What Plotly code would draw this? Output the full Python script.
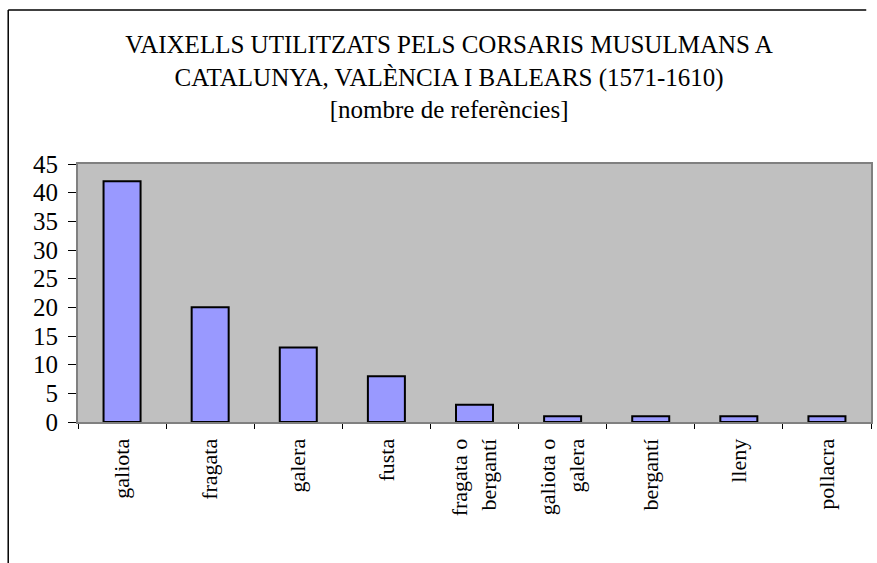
import plotly.graph_objects as go

# data
vaixells = ["galiota", "fragata", "galera", "fusta", "fragata o<br>bergantí",
            "galiota o<br>galera", "bergantí", "lleny", "pollacra"]
referencies = [42, 20, 13, 8, 3, 1, 1, 1, 1]
yticks = [0, 5, 10, 15, 20, 25, 30, 35, 40, 45]

titol = ("VAIXELLS UTILITZATS PELS CORSARIS MUSULMANS A<br>"
         "CATALUNYA, VALÈNCIA I BALEARS (1571-1610)<br>"
         "[nombre de referències]")

FONT = "Liberation Serif, Times New Roman, serif"

fig = go.Figure(go.Bar(
    x=vaixells, y=referencies,
    marker=dict(color="#9999FF", line=dict(color="black", width=2)),
))

fig.update_layout(
    width=877, height=563,
    margin=dict(l=78, r=4, t=164, b=141),
    paper_bgcolor="white", plot_bgcolor="#C0C0C0",
    bargap=0.58,
    showlegend=False,
    font=dict(family=FONT, color="black"),
    title=dict(text=titol, x=0.468, xref="paper", xanchor="center",
               y=0.905, yanchor="top",
               font=dict(family=FONT, size=25, color="black")),
)

fig.update_yaxes(
    range=[0, 45], tickvals=yticks, showgrid=False, zeroline=False,
    ticks="outside", ticklen=8, tickcolor="black",
    ticklabelstandoff=5,
    showline=True, linecolor="#808080", linewidth=2, mirror=True,
    tickfont=dict(size=25),
)
fig.update_xaxes(
    tickangle=-90, ticks="outside", ticklen=5, tickcolor="black",
    tickson="boundaries", ticklabelstandoff=6,
    showline=True, linecolor="#808080", linewidth=2, mirror=True,
    tickfont=dict(size=22),
)

# outer chart border (left and top edges are the only ones in view)
fig.add_shape(type="line", xref="paper", yref="paper",
              x0=-0.088, x1=-0.088, y0=-0.62, y1=1.597,
              line=dict(color="black", width=1.5), layer="below")
fig.add_shape(type="line", xref="paper", yref="paper",
              x0=-0.088, x1=0.994, y0=1.597, y1=1.597,
              line=dict(color="black", width=1.5), layer="below")

# no default page margin around the chart
fig.write_html("out.html", config={"displayModeBar": False},
               post_script="document.body.style.margin='0';")
